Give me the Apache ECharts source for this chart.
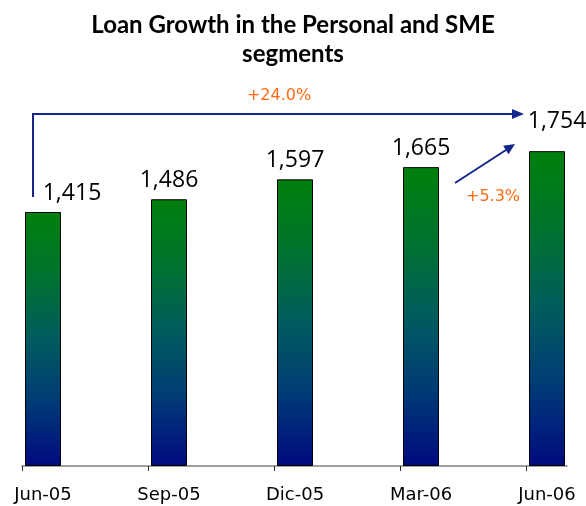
<!DOCTYPE html>
<html>
<head>
<meta charset="utf-8">
<script src="https://cdn.jsdelivr.net/npm/echarts@6/dist/echarts.min.js"></script>
<style>
    html, body { margin: 0; padding: 0; background: #fff; }
    #main { width: 586px; height: 506px; }
</style>
</head>
<body>
<div id="main"></div>
<script>
var categories = ['Jun-05', 'Sep-05', 'Dic-05', 'Mar-06', 'Jun-06'];
var loans = [1415, 1486, 1597, 1665, 1754];
var growthLabels = ['+24.0%', '+5.3%'];

var chartDom = document.getElementById('main');
var myChart = echarts.init(chartDom);
var option;

var navy = '#15268a';
var orange = '#ff6a13';

// bar fill: green on top, teal in the middle, navy at the bottom
var barFill = new echarts.graphic.LinearGradient(0, 0, 0, 1, [
    { offset: 0, color: '#00800c' },
    { offset: 0.25, color: '#00722e' },
    { offset: 0.5, color: '#005c5e' },
    { offset: 0.75, color: '#003a76' },
    { offset: 1, color: '#000a80' }
]);

// bars sit at the category index, ticks 1/6 slot to the left of them
var idx = categories.map(function (c, i) { return i; });
var tickPos = idx.map(function (i) { return i - 1 / 6; });

var barData = loans.map(function (v, i) {
    var item = { value: [i, v] };
    if (i === 0) item.label = { offset: [29, 0] };
    if (i === loans.length - 1) item.label = { offset: [10, -11] };
    return item;
});

option = {
    animation: false,
    title: {
        text: 'Loan Growth in the Personal and SME\nsegments',
        left: 'center',
        top: 6,
        textStyle: {
            fontFamily: 'Lato',
            fontWeight: 'bold',
            fontSize: 24,
            lineHeight: 29,
            color: '#000'
        }
    },
    grid: { left: 22, top: 107, bottom: 40, width: 545 },
    xAxis: {
        type: 'value',
        min: -1 / 6,
        max: 4.1587,
        axisLine: { show: true, lineStyle: { color: '#808080', width: 1.5 } },
        axisTick: {
            show: true,
            length: 5,
            customValues: tickPos,
            lineStyle: { color: '#333' }
        },
        axisLabel: {
            customValues: idx,
            margin: 20,
            fontFamily: 'DejaVu Sans',
            fontSize: 18,
            color: '#000',
            formatter: function (v) {
                return categories[Math.round(v)];
            }
        },
        splitLine: { show: false }
    },
    yAxis: { type: 'value', min: 0, max: 2000, show: false },
    series: [
        {
            name: 'Loans',
            type: 'bar',
            barWidth: 36,
            data: barData,
            itemStyle: {
                color: barFill,
                borderColor: '#000',
                borderWidth: 1
            },
            label: {
                show: true,
                position: 'top',
                distance: 7,
                fontFamily: 'Open Sans',
                fontSize: 23,
                color: '#000',
                formatter: function (p) {
                    return p.value[1].toLocaleString('en-US');
                }
            }
        }
    ],
    graphic: [
        {
            type: 'polyline',
            shape: { points: [[33, 197], [33, 114], [513, 114]] },
            style: { stroke: navy, lineWidth: 2, fill: null }
        },
        {
            type: 'polygon',
            shape: { points: [[512, 109], [524, 114], [512, 119]] },
            style: { fill: navy }
        },
        {
            type: 'line',
            shape: { x1: 455, y1: 183, x2: 506, y2: 150 },
            style: { stroke: navy, lineWidth: 2 }
        },
        {
            type: 'polygon',
            shape: { points: [[515, 144], [508.5, 154.2], [503.1, 145.8]] },
            style: { fill: navy }
        },
        {
            type: 'text',
            x: 279,
            y: 96,
            style: {
                text: growthLabels[0],
                fill: orange,
                font: '16px "DejaVu Sans"',
                textAlign: 'center',
                textVerticalAlign: 'middle'
            }
        },
        {
            type: 'text',
            x: 493,
            y: 197,
            style: {
                text: growthLabels[1],
                fill: orange,
                font: '16px "DejaVu Sans"',
                textAlign: 'center',
                textVerticalAlign: 'middle'
            }
        }
    ]
};

option && myChart.setOption(option);
</script>
</body>
</html>
